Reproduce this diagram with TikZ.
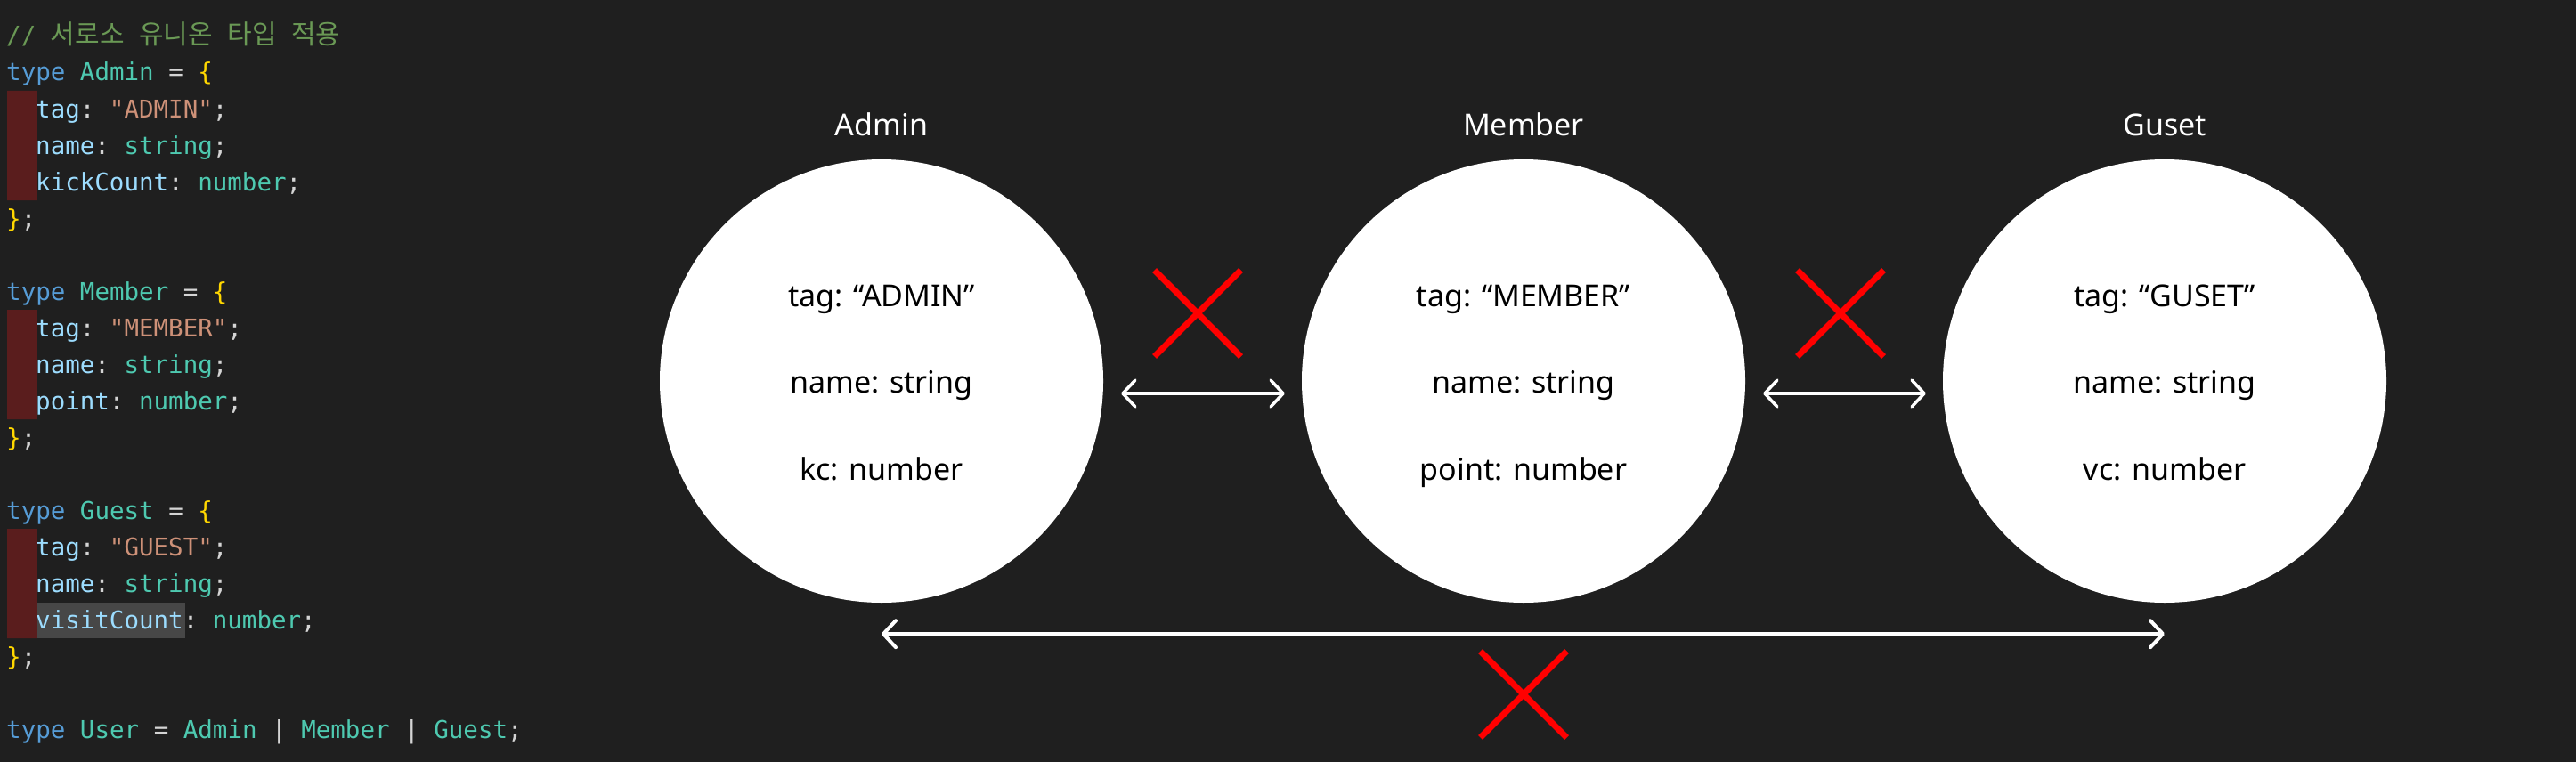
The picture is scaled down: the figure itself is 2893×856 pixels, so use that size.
\documentclass[tikz,border=0pt]{standalone}
\usepackage{fontspec}
\setmainfont{Noto Sans}
\setmonofont{DejaVu Sans Mono}
\newfontfamily\cjk{Noto Sans CJK KR}
\usetikzlibrary{arrows.meta,positioning,shapes.misc}

\definecolor{bg}{HTML}{1F1F1F}
\definecolor{cmt}{HTML}{6A9955}
\definecolor{kwd}{HTML}{569CD6}
\definecolor{tyn}{HTML}{4EC9B0}
\definecolor{prop}{HTML}{9CDCFE}
\definecolor{strc}{HTML}{CE9178}
\definecolor{punc}{HTML}{D4D4D4}
\definecolor{brace}{HTML}{FFD700}
\definecolor{gutter}{HTML}{5A1D1D}
\definecolor{hilite}{HTML}{474747}

\newcommand\codekw[1]{\textcolor{kwd}{#1}}
\newcommand\codety[1]{\textcolor{tyn}{#1}}
\newcommand\codeprop[1]{\textcolor{prop}{#1}}
\newcommand\codestr[1]{\textcolor{strc}{#1}}
\newcommand\codebr[1]{\textcolor{brace}{#1}}
\newcommand\hangul[1]{{\cjk\fontsize{30}{41}\selectfont #1}}

\begin{document}
\begin{tikzpicture}[x=1pt,y=-1pt,
	code/.style={anchor=base west, inner sep=0, text=punc, font=\ttfamily\fontsize{27.5}{41}\selectfont},
	usertype/.style={circle, fill=white, minimum size=498pt, inner sep=0},
	title/.style={text=white, inner sep=0, font=\fontsize{34}{40}\selectfont},
	field/.style={anchor=base, inner sep=0, text=black, font=\fontsize{34}{40}\selectfont},
	link/.style={draw=white, line width=3.5pt, <->, >={Straight Barb[length=14pt,width=30pt,round]}},
	nope/.style={cross out, draw=red, line width=7pt, minimum size=90pt, inner sep=0}]
	\useasboundingbox (0,0) rectangle (2893,856);
	\fill[bg] (0,0) rectangle (2893,856);
	\fill[gutter] (8,102) rectangle (41,225) (8,348) rectangle (41,471) (8,594) rectangle (41,717);
	\fill[hilite] (41.5,677) rectangle (207.5,717);

	\node[code] (c1) at (7,50) {\textcolor{cmt}{// \hangul{서로소} \hangul{유니온} \hangul{타입} \hangul{적용}}};
	\node[code] (c2) at (7,91) {\codekw{type} \codety{Admin} = \codebr{\{}};
	\node[code] (c3) at (40,132) {\codeprop{tag}: \codestr{"ADMIN"};};
	\node[code] (c4) at (40,173) {\codeprop{name}: \codety{string};};
	\node[code] (c5) at (40,214) {\codeprop{kickCount}: \codety{number};};
	\node[code] (c6) at (7,255) {\codebr{\}};};
	\node[code] (c7) at (7,337) {\codekw{type} \codety{Member} = \codebr{\{}};
	\node[code] (c8) at (40,378) {\codeprop{tag}: \codestr{"MEMBER"};};
	\node[code] (c9) at (40,419) {\codeprop{name}: \codety{string};};
	\node[code] (c10) at (40,460) {\codeprop{point}: \codety{number};};
	\node[code] (c11) at (7,501) {\codebr{\}};};
	\node[code] (c12) at (7,583) {\codekw{type} \codety{Guest} = \codebr{\{}};
	\node[code] (c13) at (40,624) {\codeprop{tag}: \codestr{"GUEST"};};
	\node[code] (c14) at (40,665) {\codeprop{name}: \codety{string};};
	\node[code] (c15) at (40,706) {\codeprop{visitCount}: \codety{number};};
	\node[code] (c16) at (7,747) {\codebr{\}};};
	\node[code] (c17) at (7,829) {\codekw{type} \codety{User} = \codety{Admin} | \codety{Member} | \codety{Guest};};

	\node[usertype] (admin) at (990,428) {};
	\node[usertype] (member) at (1711,428) {};
	\node[usertype] (guest) at (2431,428) {};

	\node[title, above=26pt of admin] (admintitle) {Admin};
	\node[title, above=26pt of member] (membertitle) {Member};
	\node[title, above=26pt of guest] (guesttitle) {Guset};

	\node[field] (admintag) at ([yshift=84pt]admin.center) {tag: “ADMIN”};
	\node[field] (adminname) at ([yshift=-13pt]admin.center) {name: string};
	\node[field] (adminkc) at ([yshift=-111pt]admin.center) {kc: number};
	\node[field] (membertag) at ([yshift=84pt]member.center) {tag: “MEMBER”};
	\node[field] (membername) at ([yshift=-13pt]member.center) {name: string};
	\node[field] (memberpoint) at ([yshift=-111pt]member.center) {point: number};
	\node[field] (guesttag) at ([yshift=84pt]guest.center) {tag: “GUSET”};
	\node[field] (guestname) at ([yshift=-13pt]guest.center) {name: string};
	\node[field] (guestvc) at ([yshift=-111pt]guest.center) {vc: number};

	\draw[link] ([shift={(20pt,-14pt)}]admin.east) -- ([shift={(-19pt,-14pt)}]member.west);
	\draw[link] ([shift={(20pt,-14pt)}]member.east) -- ([shift={(-19pt,-14pt)}]guest.west);
	\draw[link, line width=4pt] ([yshift=-35pt]admin.south) -- ([yshift=-35pt]guest.south);

	\node[nope] (nope1) at (1345,352) {};
	\node[nope] (nope2) at (2067,352) {};
	\node[nope] (nope3) at (1711,780) {};
\end{tikzpicture}
\end{document}
